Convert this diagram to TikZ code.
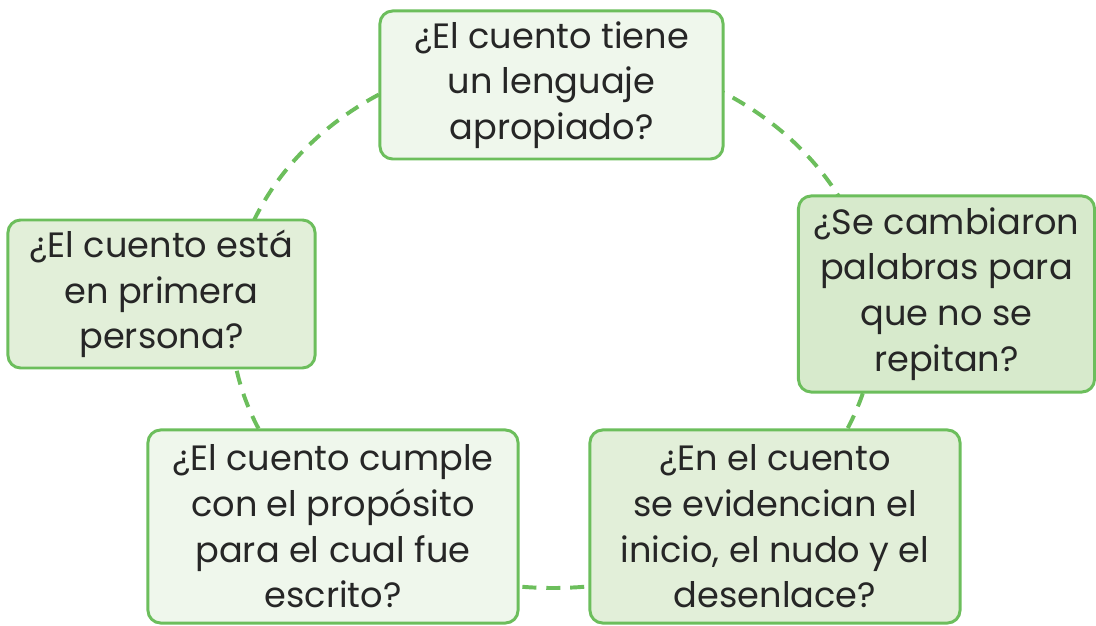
\documentclass[tikz,border=0pt]{standalone}
\usepackage{fontspec}
\setmainfont{Poppins}
\definecolor{verde}{RGB}{108,190,92}
\definecolor{claro}{RGB}{239,247,236}
\definecolor{medio}{RGB}{226,239,217}
\definecolor{oscuro}{RGB}{215,234,204}
\begin{document}
\begin{tikzpicture}[x=0.025cm,y=0.025cm,
    pregunta/.style={draw=verde, line width=2.1pt, rounded corners=9pt, align=center,
        font=\fontsize{25}{32}\selectfont, text=black!85, inner sep=0pt,
        execute at begin node=\setlength{\baselineskip}{32.5pt}},
    ciclo/.style={draw=verde, line width=2.8pt, dash pattern=on 10pt off 7pt}]
\useasboundingbox (0,0) rectangle (1096,625);
\coordinate (centro) at (553,305);
\draw[ciclo] (centro) ellipse [x radius=322, y radius=268];

\node[pregunta, fill=claro, minimum width=8.575cm, minimum height=3.7cm] (lenguaje) at (551.5,540)
    {¿El cuento tiene\\un lenguaje\\apropiado?};
\node[pregunta, fill=oscuro, minimum width=7.4cm, minimum height=4.9cm] (palabras) at (946.5,331)
    {¿Se cambiaron\\palabras para\\que no se\\repitan?};
\node[pregunta, fill=medio, minimum width=9.25cm, minimum height=4.825cm] (estructura) at (775,98.5)
    {¿En el cuento\\se evidencian el\\inicio, el nudo y el\\desenlace?};
\node[pregunta, fill=claro, minimum width=9.25cm, minimum height=4.825cm] (proposito) at (333,98.5)
    {¿El cuento cumple\\con el propósito\\para el cual fue\\escrito?};
\node[pregunta, fill=medio, minimum width=7.675cm, minimum height=3.7cm] (persona) at (161.5,331)
    {¿El cuento está\\en primera\\persona?};
\end{tikzpicture}
\end{document}
